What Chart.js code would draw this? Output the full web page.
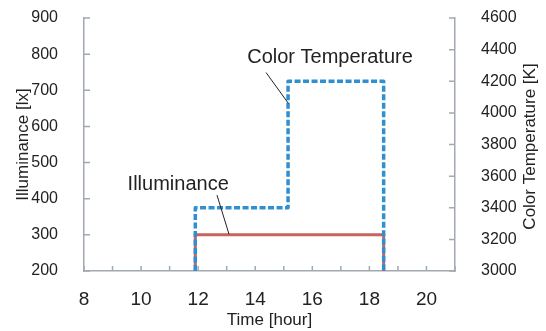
<!DOCTYPE html>
<html>
<head>
<meta charset="utf-8">
<script src="https://cdn.jsdelivr.net/npm/chart.js@4"></script>
<style>
  html, body { margin: 0; padding: 0; background: #fff; }
  canvas { display: block; }
</style>
</head>
<body>
<canvas id="lightChart" width="546" height="331"></canvas>
<script>
// datos
const illumTime = [11.9, 11.9, 18.5, 18.5];
const illumLux = [200, 300, 300, 200];
const ctTime = [11.9, 11.9, 15.15, 15.15, 18.5, 18.5];
const ctKelvin = [3000, 3400, 3400, 4200, 4200, 3000];
const hourLabels = [8, 10, 12, 14, 16, 18, 20];

const axisGray = '#a2a9b0';
const textColor = '#222';
const font = 'Liberation Sans, Arial, sans-serif';

// etiquetas con linea guia (en unidades de los ejes)
const notes = [
  { text: 'Color Temperature', x: 16.62, y: 792, from: [14.38, 749], to: [15.16, 664] },
  { text: 'Illuminance', x: 11.3, y: 438, from: [12.66, 410], to: [13.08, 302] }
];

// sin relleno extra de las escalas: el area del grafico la fija layout.padding
function noPad(s) {
  s.paddingTop = 0; s.paddingBottom = 0; s.paddingLeft = 0; s.paddingRight = 0;
}

const extras = {
  id: 'extras',
  afterDatasetsDraw(chart) {
    const { ctx, scales } = chart;
    const xs = scales.x, yl = scales.y, yr = scales.y1;
    ctx.save();
    // marcas hacia dentro
    ctx.strokeStyle = axisGray;
    ctx.lineWidth = 1.5;
    ctx.beginPath();
    xs.ticks.forEach(t => {
      const px = xs.getPixelForValue(t.value);
      ctx.moveTo(px, xs.top); ctx.lineTo(px, xs.top - 5);
    });
    yl.ticks.forEach(t => {
      const py = yl.getPixelForValue(t.value);
      ctx.moveTo(yl.right, py); ctx.lineTo(yl.right + 6, py);
    });
    yr.ticks.forEach(t => {
      const py = yr.getPixelForValue(t.value);
      ctx.moveTo(yr.left, py); ctx.lineTo(yr.left - 6, py);
    });
    ctx.stroke();

    // notas
    ctx.fillStyle = textColor;
    ctx.strokeStyle = textColor;
    ctx.lineWidth = 1;
    ctx.font = '20px ' + font;
    ctx.textAlign = 'center';
    ctx.textBaseline = 'middle';
    notes.forEach(n => {
      ctx.fillText(n.text, xs.getPixelForValue(n.x), yl.getPixelForValue(n.y));
      ctx.beginPath();
      ctx.moveTo(xs.getPixelForValue(n.from[0]), yl.getPixelForValue(n.from[1]));
      ctx.lineTo(xs.getPixelForValue(n.to[0]), yl.getPixelForValue(n.to[1]));
      ctx.stroke();
    });

    // titulo del eje derecho (de abajo hacia arriba)
    ctx.font = '17px ' + font;
    ctx.translate(530, (chart.chartArea.top + chart.chartArea.bottom) / 2 + 2);
    ctx.rotate(-Math.PI / 2);
    ctx.fillText('Color Temperature [K]', 0, 0);
    ctx.restore();
  }
};

new Chart(document.getElementById('lightChart'), {
  type: 'line',
  data: {
    datasets: [
      {
        label: 'Color Temperature',
        data: ctTime.map((t, i) => ({ x: t, y: ctKelvin[i] })),
        yAxisID: 'y1',
        borderColor: '#2f8fd0',
        borderWidth: 3.5,
        borderDash: [6, 2.5],
        borderJoinStyle: 'round',
        pointRadius: 0,
        tension: 0,
        order: 0
      },
      {
        label: 'Illuminance',
        data: illumTime.map((t, i) => ({ x: t, y: illumLux[i] })),
        yAxisID: 'y',
        borderColor: '#c9625c',
        borderWidth: 3,
        pointRadius: 0,
        tension: 0,
        order: 1
      }
    ]
  },
  options: {
    responsive: false,
    animation: false,
    layout: { padding: { top: 18, left: 0, right: 0, bottom: 0 } },
    plugins: { legend: { display: false }, tooltip: { enabled: false } },
    scales: {
      x: {
        type: 'linear',
        min: 8, max: 21,
        grid: { display: false },
        border: { color: axisGray, width: 1.5 },
        ticks: {
          stepSize: 1, autoSkip: false, maxRotation: 0, padding: 9,
          color: textColor, font: { family: font, size: 19 },
          callback: v => hourLabels.includes(v) ? String(v) : ''
        },
        title: { display: true, text: 'Time [hour]', color: textColor,
                 font: { family: font, size: 17 }, padding: { top: 0, bottom: 0 } },
        afterFit: s => { s.height = 60; noPad(s); }
      },
      y: {
        position: 'left',
        min: 200, max: 900,
        grid: { display: false },
        border: { color: axisGray, width: 1.5 },
        ticks: { stepSize: 100, padding: 18, color: textColor, font: { family: font, size: 16 },
                 callback: v => String(v) },
        title: { display: true, text: 'Illuminance [lx]', color: textColor,
                 font: { family: font, size: 17 }, padding: { top: 13, bottom: 0 } },
        afterFit: s => { s.width = 84; noPad(s); }
      },
      y1: {
        position: 'right',
        min: 3000, max: 4600,
        grid: { display: false },
        border: { color: axisGray, width: 1.5 },
        ticks: { stepSize: 200, padding: 18, color: textColor, font: { family: font, size: 16 },
                 callback: v => String(v) },
        afterFit: s => { s.width = 91; noPad(s); }
      }
    }
  },
  plugins: [extras]
});
</script>
</body>
</html>
